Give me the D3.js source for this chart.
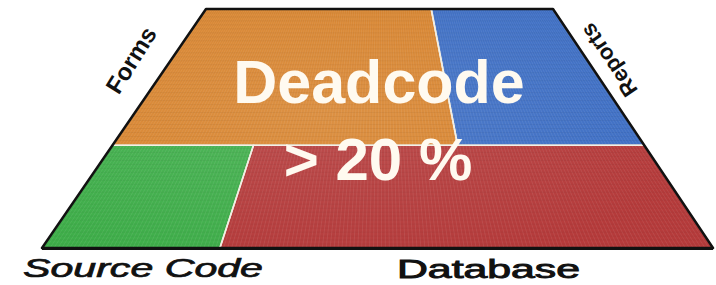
<!DOCTYPE html>
<html>
<head>
<meta charset="utf-8">
<script src="https://cdn.jsdelivr.net/npm/d3@7"></script>
<style>
  html, body { margin: 0; padding: 0; background: #fff; }
  svg { display: block; }
</style>
</head>
<body>
<svg id="chart" width="716" height="285"></svg>
<script>
// ---- data ----
const categories = ["Forms", "Reports", "Source Code", "Database"];
const rows       = ["top", "top", "bottom", "bottom"];
const values     = [37, 20, 11.4, 31.6];
const colors     = ["#d8842e", "#3d6ec4", "#3fae4a", "#b53b3b"];
const headline   = ["Deadcode", "> 20 %"];

const W = 716, H = 285;
const svg = d3.select("#chart");

// perspective plane (trapezoid) geometry
const topY = 9, botY = 248;
const topL = 206, topR = 553, botL = 42, botR = 713;

const yScale = d3.scaleLinear().domain([0, 1]).range([topY, botY]);
const leftEdge = d3.scaleLinear().domain([0, 1]).range([topL, botL]);
const rightEdge = d3.scaleLinear().domain([0, 1]).range([topR, botR]);
function project(u, v) {
  const xl = leftEdge(v), xr = rightEdge(v);
  return [xl + u * (xr - xl), yScale(v)];
}

// hierarchy: rows stacked vertically, cells side by side
const rowNames = Array.from(new Set(rows));
const rootData = {
  name: "root",
  children: rowNames.map(r => ({
    name: r,
    children: categories.map((c, i) => ({ name: c, value: values[i], color: colors[i], row: rows[i] }))
                        .filter(d => d.row === r)
  }))
};
const root = d3.hierarchy(rootData).sum(d => d.value || 0);
d3.treemap()
  .size([1, 1])
  .tile((node, x0, y0, x1, y1) => node.depth % 2 === 0
      ? d3.treemapSlice(node, x0, y0, x1, y1)
      : d3.treemapDice(node, x0, y0, x1, y1))(root);

const leaves = root.leaves();

const defs = svg.append("defs");
const clip = defs.append("clipPath").attr("id", "plane");
clip.append("polygon").attr("points", [project(0,0), project(1,0), project(1,1), project(0,1)].map(p => p.join(",")).join(" "));
const glow = defs.append("radialGradient").attr("id", "glow").attr("cx", "0.45").attr("cy", "0.4").attr("r", "0.55");
glow.append("stop").attr("offset", "0").attr("stop-color", "#fff").attr("stop-opacity", 0.10);
glow.append("stop").attr("offset", "1").attr("stop-color", "#fff").attr("stop-opacity", 0);

// cells
const g = svg.append("g");
g.selectAll("polygon.cell")
  .data(leaves)
  .join("polygon")
  .attr("class", "cell")
  .attr("fill", d => d.data.color)
  .attr("points", d => [project(d.x0, d.y0), project(d.x1, d.y0), project(d.x1, d.y1), project(d.x0, d.y1)]
      .map(p => p.join(",")).join(" "));

// grid texture in perspective
const tex = svg.append("g").attr("clip-path", "url(#plane)");
tex.append("rect").attr("x", 0).attr("y", 0).attr("width", W).attr("height", H).attr("fill", "url(#glow)");
const nU = 170, nV = 60;
tex.selectAll("line.gu")
  .data(d3.range(1, nU))
  .join("line")
  .attr("x1", i => project(i / nU, 0)[0]).attr("y1", topY)
  .attr("x2", i => project(i / nU, 1)[0]).attr("y2", botY)
  .attr("stroke", "#ffffff").attr("stroke-opacity", 0.10).attr("stroke-width", 0.8);
tex.selectAll("line.gv")
  .data(d3.range(1, nV))
  .join("line")
  .attr("x1", i => project(0, i / nV)[0]).attr("y1", i => project(0, i / nV)[1])
  .attr("x2", i => project(1, i / nV)[0]).attr("y2", i => project(1, i / nV)[1])
  .attr("stroke", "#000000").attr("stroke-opacity", 0.06).attr("stroke-width", 0.8);

// cell separators (light lines)
g.append("g").selectAll("polygon.sep")
  .data(leaves)
  .join("polygon")
  .attr("fill", "none")
  .attr("stroke", "#f4f0e4")
  .attr("stroke-width", 1.6)
  .attr("points", d => [project(d.x0, d.y0), project(d.x1, d.y0), project(d.x1, d.y1), project(d.x0, d.y1)]
      .map(p => p.join(",")).join(" "));

// outer border
svg.append("polygon")
  .attr("fill", "none")
  .attr("stroke", "#111")
  .attr("stroke-width", 2.5)
  .attr("stroke-linejoin", "round")
  .attr("points", [project(0,0), project(1,0), project(1,1), project(0,1)].map(p => p.join(",")).join(" "));
svg.append("line")
  .attr("x1", botL).attr("x2", botR).attr("y1", botY + 0.5).attr("y2", botY + 0.5)
  .attr("stroke", "#111").attr("stroke-width", 3);

// headline text
svg.append("text")
  .attr("x", 379).attr("y", 103)
  .attr("text-anchor", "middle")
  .attr("font-family", "Liberation Sans, Arial, sans-serif")
  .attr("font-weight", "bold")
  .attr("font-size", 61)
  .attr("fill", "#fffaf0")
  .text(headline[0]);
svg.append("text")
  .attr("x", 378).attr("y", 180)
  .attr("text-anchor", "middle")
  .attr("font-family", "Liberation Sans, Arial, sans-serif")
  .attr("font-weight", "bold")
  .attr("font-size", 60)
  .attr("fill", "#fffaf0")
  .attr("xml:space", "preserve")
  .text(headline[1]);

// category labels
const labelFont = "Liberation Sans, Arial, sans-serif";
svg.append("text")
  .attr("transform", "translate(131,60) rotate(-58)")
  .attr("text-anchor", "middle")
  .attr("dominant-baseline", "central")
  .attr("font-family", labelFont).attr("font-weight", "bold").attr("font-size", 24)
  .attr("fill", "#111")
  .text(categories[0]);
svg.append("text")
  .attr("transform", "translate(609,60) rotate(-124)")
  .attr("text-anchor", "middle")
  .attr("dominant-baseline", "central")
  .attr("font-family", labelFont).attr("font-weight", "bold").attr("font-size", 22)
  .attr("fill", "#111")
  .text(categories[1]);
svg.append("text")
  .attr("x", 23).attr("y", 277)
  .attr("font-family", labelFont).attr("font-style", "italic").attr("font-size", 25)
  .attr("textLength", 240).attr("lengthAdjust", "spacingAndGlyphs")
  .attr("fill", "#111").attr("stroke", "#111").attr("stroke-width", 0.7)
  .text(categories[2]);
svg.append("text")
  .attr("x", 397).attr("y", 278)
  .attr("font-family", labelFont).attr("font-size", 25)
  .attr("textLength", 183).attr("lengthAdjust", "spacingAndGlyphs")
  .attr("fill", "#111").attr("stroke", "#111").attr("stroke-width", 0.9)
  .text(categories[3]);
</script>
</body>
</html>
